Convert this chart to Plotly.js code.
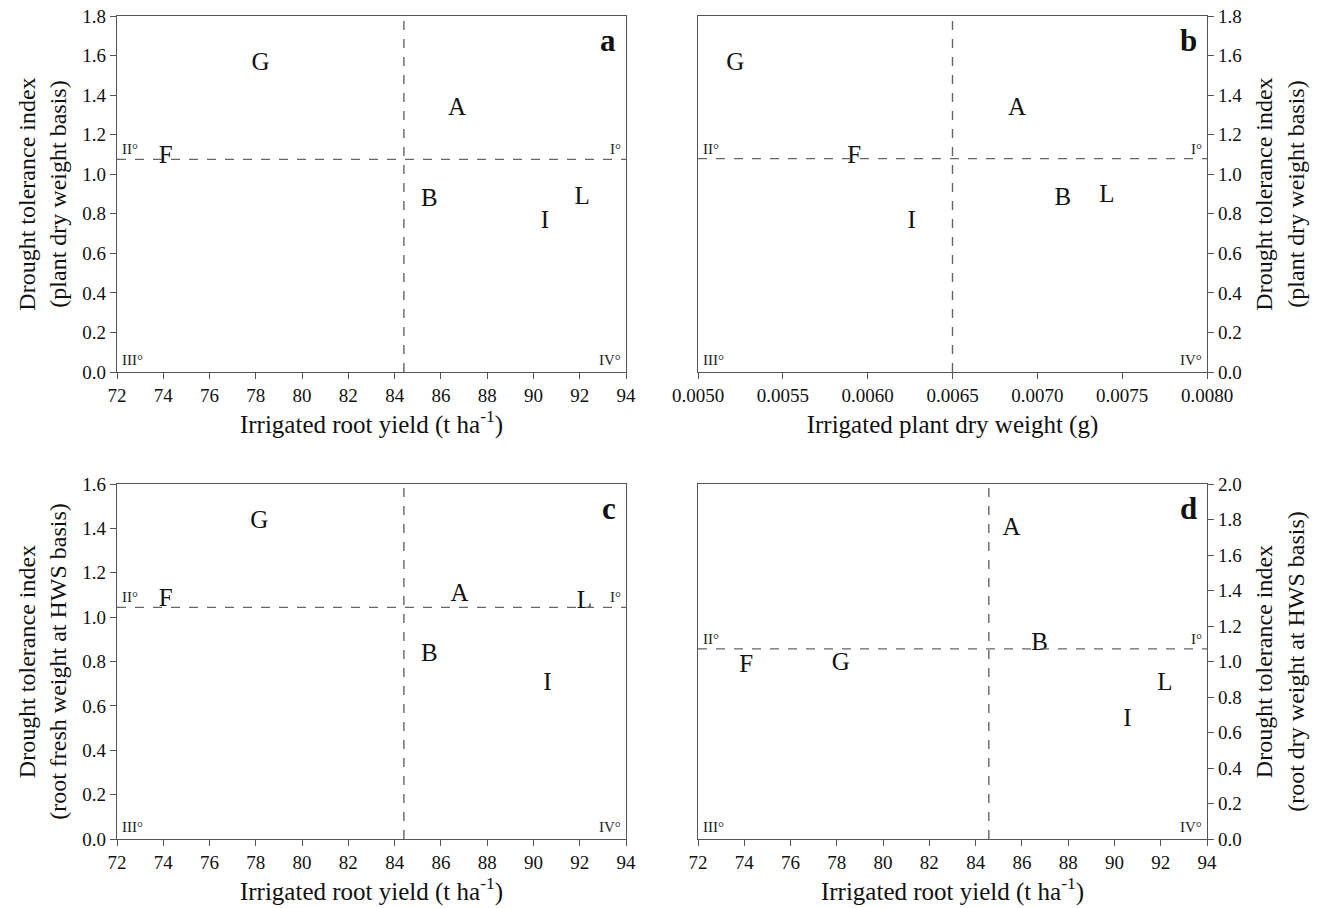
<!DOCTYPE html>
<html>
<head>
<meta charset="utf-8">
<script src="https://cdn.plot.ly/plotly-3.0.1.min.js"></script>
<style>html,body{margin:0;padding:0;background:#fff;}#chart{width:1323px;height:908px;}</style>
</head>
<body>
<div id="chart"></div>
<script>
// Genotype labels
const labelsA = ["G", "A", "F", "B", "I", "L"];
const xA = [78.2, 86.7, 74.1, 85.5, 90.5, 92.1];
const yA = [1.56, 1.33, 1.09, 0.87, 0.76, 0.88];
const cutXA = 84.4, cutYA = 1.075;

const labelsB = ["G", "A", "F", "I", "B", "L"];
const xB = [0.00522, 0.00688, 0.00592, 0.00626, 0.00715, 0.00741];
const yB = [1.56, 1.33, 1.09, 0.76, 0.875, 0.89];
const cutXB = 0.0065, cutYB = 1.079;

const labelsC = ["G", "F", "A", "L", "B", "I"];
const xC = [78.15, 74.1, 86.8, 92.2, 85.5, 90.6];
const yC = [1.43, 1.08, 1.10, 1.07, 0.83, 0.70];
const cutXC = 84.4, cutYC = 1.044;

const labelsD = ["A", "B", "F", "G", "L", "I"];
const xD = [85.55, 86.76, 74.08, 78.17, 92.18, 90.56];
const yD = [1.75, 1.10, 0.975, 0.99, 0.875, 0.67];
const cutXD = 84.57, cutYD = 1.071;

const FONT = "Liberation Serif";
const W = 1323, H = 908;
const px = v => v / W, py = v => 1 - v / H;

const panels = [
  {lab: labelsA, x: xA, y: yA, cx: cutXA, cy: cutYA, xr: [72, 94], yr: [0, 1.8], dx: [117, 626], dy: [16, 372], side: "left", letter: "a",
   xt: "Irrigated root yield (t ha<sup>-1</sup>)", yt: "Drought tolerance index<br>(plant dry weight basis)", xdt: 2, ydt: 0.2, xfmt: "d", yfmt: ".1f"},
  {lab: labelsB, x: xB, y: yB, cx: cutXB, cy: cutYB, xr: [0.005, 0.008], yr: [0, 1.8], dx: [698, 1207], dy: [16, 372], side: "right", letter: "b",
   xt: "Irrigated plant dry weight (g)", yt: "Drought tolerance index<br>(plant dry weight basis)", xdt: 0.0005, ydt: 0.2, xfmt: ".4f", yfmt: ".1f"},
  {lab: labelsC, x: xC, y: yC, cx: cutXC, cy: cutYC, xr: [72, 94], yr: [0, 1.6], dx: [117, 626], dy: [484, 839], side: "left", letter: "c",
   xt: "Irrigated root yield (t ha<sup>-1</sup>)", yt: "Drought tolerance index<br>(root fresh weight at HWS basis)", xdt: 2, ydt: 0.2, xfmt: "d", yfmt: ".1f"},
  {lab: labelsD, x: xD, y: yD, cx: cutXD, cy: cutYD, xr: [72, 94], yr: [0, 2.0], dx: [698, 1207], dy: [484, 839], side: "right", letter: "d",
   xt: "Irrigated root yield (t ha<sup>-1</sup>)", yt: "Drought tolerance index<br>(root dry weight at HWS basis)", xdt: 2, ydt: 0.2, xfmt: "d", yfmt: ".1f"}
];

const data = [];
const layout = {
  width: W, height: H, margin: {l: 0, r: 0, t: 0, b: 0},
  paper_bgcolor: "#fff", plot_bgcolor: "#fff", showlegend: false,
  font: {family: FONT, color: "#111"},
  shapes: [], annotations: []
};

panels.forEach((p, i) => {
  const n = i + 1;
  const xa = "x" + (n === 1 ? "" : n), ya = "y" + (n === 1 ? "" : n);
  const xk = "xaxis" + (n === 1 ? "" : n), yk = "yaxis" + (n === 1 ? "" : n);
  data.push({type: "scatter", mode: "text", x: p.x, y: p.y, text: p.lab, xaxis: xa, yaxis: ya,
    textfont: {family: FONT, size: 25, color: "#111"}, textposition: "middle center", hoverinfo: "skip", cliponaxis: false});
  layout[xk] = {domain: [px(p.dx[0]), px(p.dx[1])], range: p.xr, anchor: ya, dtick: p.xdt, tick0: p.xr[0], tickformat: p.xfmt,
    showgrid: false, zeroline: false, showline: true, mirror: true, linecolor: "#555", linewidth: 1.2,
    ticks: "outside", ticklen: 6, tickcolor: "#555", tickfont: {family: FONT, size: 19, color: "#111"},
    title: {text: p.xt, font: {family: FONT, size: 25, color: "#111"}, standoff: 10}};
  layout[yk] = {domain: [py(p.dy[1]), py(p.dy[0])], range: p.yr, anchor: xa, side: p.side, dtick: p.ydt, tick0: 0, tickformat: p.yfmt,
    showgrid: false, zeroline: false, showline: true, mirror: true, linecolor: "#555", linewidth: 1.2,
    ticks: "outside", ticklen: 6, tickcolor: "#555", tickfont: {family: FONT, size: 19, color: "#111"},
    title: {text: p.yt, font: {family: FONT, size: 24, color: "#111"}, standoff: p.side === "right" ? 14 : 8}};
  const dash = {color: "#666", width: 1.4, dash: "dash"};
  layout.shapes.push({type: "line", xref: xa, yref: ya + " domain", x0: p.cx, x1: p.cx, y0: 0, y1: 1, line: dash});
  layout.shapes.push({type: "line", xref: xa + " domain", yref: ya, x0: 0, x1: 1, y0: p.cy, y1: p.cy, line: dash});
  const qf = {family: FONT, size: 15, color: "#222"};
  layout.annotations.push({xref: xa + " domain", yref: ya, x: 0.005, y: p.cy, text: "II°", showarrow: false, xanchor: "left", yanchor: "bottom", font: qf, yshift: 0});
  layout.annotations.push({xref: xa + " domain", yref: ya, x: 0.995, y: p.cy, text: "I°", showarrow: false, xanchor: "right", yanchor: "bottom", font: qf, yshift: 0});
  layout.annotations.push({xref: xa + " domain", yref: ya + " domain", x: 0.005, y: 0, text: "III°", showarrow: false, xanchor: "left", yanchor: "bottom", font: qf, yshift: 2});
  layout.annotations.push({xref: xa + " domain", yref: ya + " domain", x: 0.995, y: 0, text: "IV°", showarrow: false, xanchor: "right", yanchor: "bottom", font: qf, yshift: 2});
  layout.annotations.push({xref: xa + " domain", yref: ya + " domain", x: 0.985, y: 0.985, text: "<b>" + p.letter + "</b>", showarrow: false, xanchor: "right", yanchor: "top", font: {family: FONT, size: 31, color: "#111"}});
});

Plotly.newPlot("chart", data, layout, {displayModeBar: false, staticPlot: true});
</script>
</body>
</html>
